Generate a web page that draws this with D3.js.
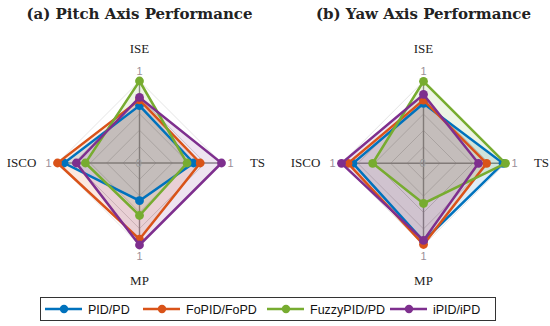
<!DOCTYPE html>
<html>
<head>
<meta charset="utf-8">
<script src="https://cdn.jsdelivr.net/npm/d3@7"></script>
<style>
body { margin: 0; background: #fff; }
svg { display: block; }
</style>
</head>
<body>
<svg class="chart"></svg>
<script>
var axisNames = ["ISE", "TS", "MP", "ISCO"];
var seriesNames = ["PID/PD", "FoPID/FoPD", "FuzzyPID/PD", "iPID/iPD"];
var seriesColors = ["#0072BD", "#D95319", "#77AC30", "#7E2F8E"];
var ringTicks = [0.2, 0.4, 0.6, 0.8, 1];

// values per series, in axis order ISE, TS, MP, ISCO
var pitchValues = [
    [0.70, 0.66, 0.46, 0.92],
    [0.77, 0.74, 0.93, 1.00],
    [1.00, 0.58, 0.64, 0.66],
    [0.80, 1.00, 1.00, 0.77]
];
var yawValues = [
    [0.73, 0.97, 0.95, 0.86],
    [0.77, 0.77, 0.99, 0.92],
    [1.00, 1.00, 0.49, 0.62],
    [0.84, 0.67, 0.94, 1.00]
];

var width = 550, height = 326;
var svg = d3.select(".chart").attr("width", width).attr("height", height);

drawRadar("(a) Pitch Axis Performance", pitchValues, 139.5, 163);
drawRadar("(b) Yaw Axis Performance", yawValues, 423.5, 163.3);
drawLegend();

function drawRadar(title, values, cx, cy) {
    var R = 82;
    var r = d3.scaleLinear().domain([0, 1]).range([0, R]);
    var angle = d3.scalePoint().domain(axisNames).range([0, 2 * Math.PI * 3 / 4]);

    function px(name, v) { return r(v) * Math.sin(angle(name)); }
    function py(name, v) { return -r(v) * Math.cos(angle(name)); }

    svg.append("text")
            .attr("x", cx)
            .attr("y", 19)
            .style("text-anchor", "middle")
            .style("font-family", "DejaVu Serif")
            .style("font-weight", "bold")
            .style("font-size", "15px")
            .attr("fill", "#222")
            .text(title);

    var g = svg.append("g").attr("transform", "translate(" + cx + "," + cy + ")");

    var ring = d3.lineRadial()
            .angle(function (d) { return angle(d); })
            .curve(d3.curveLinearClosed);
    g.selectAll(".ring")
            .data(ringTicks)
            .enter().append("path")
            .attr("class", "ring")
            .attr("d", function (t) { return ring.radius(r(t))(axisNames); })
            .attr("fill", "none")
            .attr("stroke", function (t) { return t === 1 ? "#dddddd" : "#c8c8c8"; })
            .attr("stroke-width", 0.8);

    g.selectAll(".spoke")
            .data(axisNames)
            .enter().append("line")
            .attr("x1", 0).attr("y1", 0)
            .attr("x2", function (d) { return px(d, 1); })
            .attr("y2", function (d) { return py(d, 1); })
            .attr("stroke", "#8c8c8c")
            .attr("stroke-width", 1.4);

    var area = d3.lineRadial()
            .angle(function (d, i) { return angle(axisNames[i]); })
            .radius(function (d) { return r(d); })
            .curve(d3.curveLinearClosed);

    values.forEach(function (vals, s) {
        g.append("path")
                .attr("d", area(vals))
                .attr("fill", seriesColors[s])
                .attr("fill-opacity", 0.13)
                .attr("stroke", "none");
    });

    values.forEach(function (vals, s) {
        g.append("path")
                .attr("d", area(vals))
                .attr("fill", "none")
                .attr("stroke", seriesColors[s])
                .attr("stroke-width", 2.5)
                .attr("stroke-linejoin", "miter");
        g.selectAll(".pt" + s)
                .data(vals)
                .enter().append("circle")
                .attr("cx", function (d, i) { return px(axisNames[i], d); })
                .attr("cy", function (d, i) { return py(axisNames[i], d); })
                .attr("r", 4.4)
                .attr("fill", seriesColors[s]);
    });

    // tick labels
    g.append("text")
            .attr("x", -1).attr("y", 4)
            .style("text-anchor", "middle")
            .style("font-family", "Liberation Sans")
            .style("font-size", "11px")
            .attr("fill", "#999")
            .text("0");
    var tickOffset = [[0, -6], [9, 4], [0, 15], [-9, 4]];
    g.selectAll(".one")
            .data(axisNames)
            .enter().append("text")
            .attr("x", function (d, i) { return px(d, 1) + tickOffset[i][0]; })
            .attr("y", function (d, i) { return py(d, 1) + tickOffset[i][1]; })
            .style("text-anchor", "middle")
            .style("font-family", "Liberation Sans")
            .style("font-size", "11px")
            .attr("fill", "#9a8f98")
            .text("1");

    var labelOffset = [[0, -110], [118, 4], [0, 122], [-118, 4]];
    g.selectAll(".axisLabel")
            .data(axisNames)
            .enter().append("text")
            .attr("x", function (d, i) { return labelOffset[i][0]; })
            .attr("y", function (d, i) { return labelOffset[i][1]; })
            .style("text-anchor", "middle")
            .style("font-family", "Liberation Serif")
            .style("font-size", "13px")
            .attr("fill", "#222")
            .text(function (d) { return d; });
}

function drawLegend() {
    var lg = svg.append("g");
    lg.append("rect")
            .attr("x", 40.5).attr("y", 297.5)
            .attr("width", 455).attr("height", 23)
            .attr("fill", "#fff")
            .attr("stroke", "#333")
            .attr("stroke-width", 1);
    var itemX = d3.scaleOrdinal().domain(seriesNames).range([45, 143, 267, 390]);
    var item = lg.selectAll(".item")
            .data(seriesNames)
            .enter().append("g")
            .attr("transform", function (d) { return "translate(" + itemX(d) + ",309)"; });
    item.append("line")
            .attr("x1", 0).attr("x2", 37)
            .attr("stroke", function (d, i) { return seriesColors[i]; })
            .attr("stroke-width", 2.4);
    item.append("circle")
            .attr("cx", 19).attr("r", 4.2)
            .attr("fill", function (d, i) { return seriesColors[i]; });
    item.append("text")
            .attr("x", 43).attr("y", 5)
            .style("font-family", "Liberation Sans")
            .style("font-size", "12.5px")
            .attr("fill", "#111")
            .text(function (d) { return d; });
}
</script>
</body>
</html>
